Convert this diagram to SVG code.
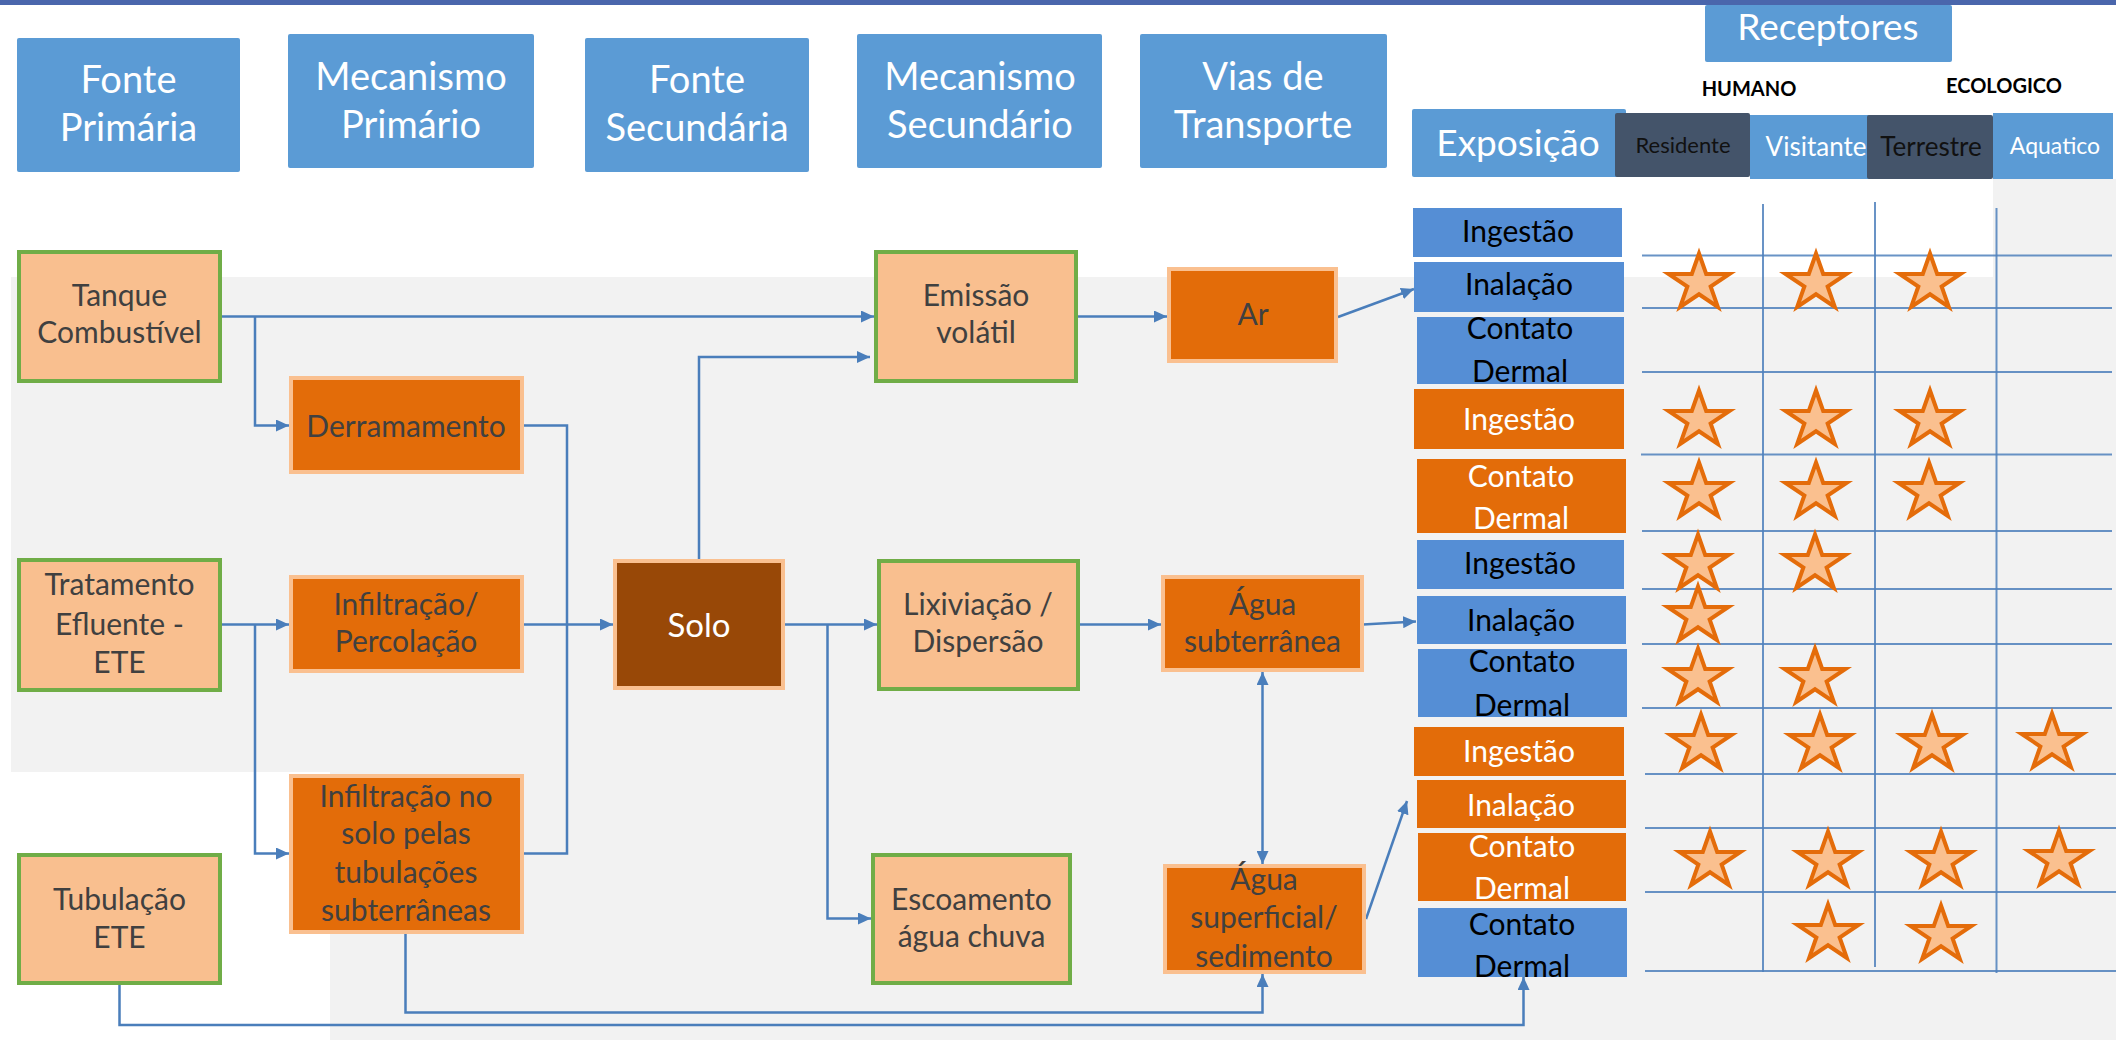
<svg xmlns="http://www.w3.org/2000/svg" width="2116" height="1040" viewBox="0 0 2116 1040">
  <style>
    text { font-family: Lato, "Liberation Sans", sans-serif; text-anchor: middle; }
    .hdr rect { fill: #5b9bd5; }
    .hdr text { fill: #ffffff; font-size: 38px; }
    .src rect { fill: #f9bf8f; stroke: #70ad47; stroke-width: 4; }
    .mech rect { fill: #e36c09; stroke: #fac090; stroke-width: 4; }
    .soil rect { fill: #984807; stroke: #fac090; stroke-width: 4; }
    .src text, .mech text { fill: #404040; font-size: 30px; }
    .soil text { fill: #ffffff; font-size: 33px; }
    .exb rect { fill: #558ed5; }
    .exb text { fill: #000000; font-size: 30px; }
    .exo rect { fill: #e36c09; }
    .exo text { fill: #ffffff; font-size: 30px; }
    .rec text { font-size: 22px; }
    .dark rect { fill: #44546a; }
    .dark text { fill: #111111; }
    .lite rect { fill: #5b9bd5; }
    .lite text { fill: #ffffff; }
    .cat { font-size: 20px; font-weight: bold; fill: #000000; }
    .grid line { stroke: #4f81bd; stroke-width: 2; opacity: 0.85; }
    .conn path { fill: none; stroke: #4a7ebb; stroke-width: 2.5; }
    .star { fill: #fac08f; stroke: #e46c0a; stroke-width: 4; stroke-linejoin: miter; }
  </style>
  <defs>
    <marker id="arr" markerUnits="userSpaceOnUse" markerWidth="14" markerHeight="12" refX="13" refY="6" orient="auto-start-reverse">
      <path d="M0,0 L13,6 L0,12 z" fill="#4a7ebb"/>
    </marker>
    <polygon id="star" class="star" points="0,-29.5 7.19,-9.12 30.43,-9.12 11.63,3.48 18.82,23.87 0,11.27 -18.82,23.87 -11.63,3.48 -30.43,-9.12 -7.19,-9.12"/>
  </defs>

  <!-- page background -->
  <rect x="0" y="0" width="2116" height="1040" fill="#ffffff"/>
  <path d="M11,277 H1993 V179 H2116 V1040 H330 V772 H11 Z" fill="#f2f2f2"/>
  <rect x="0" y="0" width="2116" height="5" fill="#4a66ac"/>

  <!-- column headers -->
  <g id="h-fonte-primaria" class="hdr">
    <rect x="17" y="38" width="223" height="134" rx="2"/>
    <text x="128.5" y="93">Fonte</text>
    <text x="128.5" y="141">Primária</text>
  </g>
  <g id="h-mecanismo-primario" class="hdr">
    <rect x="288" y="34" width="246" height="134" rx="2"/>
    <text x="411" y="90">Mecanismo</text>
    <text x="411" y="138">Primário</text>
  </g>
  <g id="h-fonte-secundaria" class="hdr">
    <rect x="585" y="38" width="224" height="134" rx="2"/>
    <text x="697" y="93">Fonte</text>
    <text x="697" y="141">Secundária</text>
  </g>
  <g id="h-mecanismo-secundario" class="hdr">
    <rect x="857" y="34" width="245" height="134" rx="2"/>
    <text x="980" y="90">Mecanismo</text>
    <text x="980" y="138">Secundário</text>
  </g>
  <g id="h-vias" class="hdr">
    <rect x="1140" y="34" width="247" height="134" rx="2"/>
    <text x="1263" y="90">Vias de</text>
    <text x="1263" y="138">Transporte</text>
  </g>
  <g id="h-receptores" class="hdr">
    <rect x="1705" y="5" width="247" height="57" rx="2"/>
    <text x="1828" y="40" style="font-size:37px">Receptores</text>
  </g>
  <g id="h-exposicao" class="hdr">
    <rect x="1412" y="109" width="214" height="68" rx="2"/>
    <text x="1518" y="156" style="font-size:37px">Exposição</text>
  </g>
  <text class="cat" x="1749" y="96">HUMANO</text>
  <text class="cat" x="2004" y="93">ECOLOGICO</text>

  <g id="r-residente" class="rec dark">
    <rect x="1615" y="113" width="135" height="64" rx="2"/>
    <text x="1683" y="153">Residente</text>
  </g>
  <g id="r-visitante" class="rec lite">
    <rect x="1750" y="115" width="119" height="64"/>
    <text x="1816" y="156" style="font-size:26px">Visitante</text>
  </g>
  <g id="r-terrestre" class="rec dark">
    <rect x="1867" y="115" width="126" height="64" rx="2"/>
    <text x="1931" y="156" style="font-size:26px">Terrestre</text>
  </g>
  <g id="r-aquatico" class="rec lite">
    <rect x="1993" y="113" width="120" height="66"/>
    <text x="2055" y="154" style="font-size:23px">Aquatico</text>
  </g>

  <!-- receptor grid -->
  <g class="grid">
    <line x1="1763" y1="204" x2="1763" y2="972"/>
    <line x1="1875" y1="202" x2="1875" y2="967"/>
    <line x1="1996.5" y1="208" x2="1996.5" y2="973"/>
    <line x1="1642" y1="255.5" x2="2112" y2="255.5"/>
    <line x1="1642" y1="308" x2="2112" y2="308"/>
    <line x1="1642" y1="372" x2="2112" y2="372"/>
    <line x1="1641" y1="454.5" x2="2112" y2="454.5"/>
    <line x1="1642" y1="531" x2="2112" y2="531"/>
    <line x1="1642" y1="589" x2="2112" y2="589"/>
    <line x1="1642" y1="644" x2="2112" y2="644"/>
    <line x1="1642" y1="708" x2="2112" y2="708"/>
    <line x1="1645" y1="774" x2="2116" y2="774"/>
    <line x1="1645" y1="828" x2="2116" y2="828"/>
    <line x1="1645" y1="892" x2="2116" y2="892"/>
    <line x1="1645" y1="971" x2="2116" y2="971"/>
  </g>

  <!-- connectors -->
  <g id="connectors" class="conn">
    <path d="M222,316.5 H874" marker-end="url(#arr)"/>
    <path d="M255,316.5 V425.5 H289" marker-end="url(#arr)"/>
    <path d="M523,425.5 H567 V853.5 H523"/>
    <path d="M523,624.5 H613" marker-end="url(#arr)"/>
    <path d="M222,624.5 H289" marker-end="url(#arr)"/>
    <path d="M255,624.5 V853.5 H289" marker-end="url(#arr)"/>
    <path d="M699,559 V357 H870" marker-end="url(#arr)"/>
    <path d="M785,624.5 H877" marker-end="url(#arr)"/>
    <path d="M827.5,624.5 V918.5 H871" marker-end="url(#arr)"/>
    <path d="M1078,316.5 H1167" marker-end="url(#arr)"/>
    <path d="M1338,317 L1414,289" marker-end="url(#arr)"/>
    <path d="M1079,624.5 H1161" marker-end="url(#arr)"/>
    <path d="M1363,624.5 L1416,621.5" marker-end="url(#arr)"/>
    <path d="M1262.5,672 V864" marker-start="url(#arr)" marker-end="url(#arr)"/>
    <path d="M405.5,934 V1012.5 H1262.5 V974" marker-end="url(#arr)"/>
    <path d="M119.5,985 V1025 H1523.5 V977" marker-end="url(#arr)"/>
    <path d="M1366,919 L1407,801" marker-end="url(#arr)"/>
  </g>

  <!-- sources -->
  <g id="n-tanque" class="src">
    <rect x="19" y="252" width="201" height="129"/>
    <text x="119.5" y="306">Tanque</text>
    <text x="119.5" y="343">Combustível</text>
  </g>
  <g id="n-tratamento" class="src">
    <rect x="19" y="560" width="201" height="130"/>
    <text x="119.5" y="595">Tratamento</text>
    <text x="119.5" y="635">Efluente -</text>
    <text x="119.5" y="673">ETE</text>
  </g>
  <g id="n-tubulacao" class="src">
    <rect x="19" y="855" width="201" height="128"/>
    <text x="119.5" y="910">Tubulação</text>
    <text x="119.5" y="948">ETE</text>
  </g>

  <!-- primary mechanisms -->
  <g id="n-derramamento" class="mech">
    <rect x="291" y="378" width="231" height="94"/>
    <text x="406" y="437">Derramamento</text>
  </g>
  <g id="n-infiltracao" class="mech">
    <rect x="291" y="577" width="231" height="94"/>
    <text x="406" y="615">Infiltração/</text>
    <text x="406" y="652">Percolação</text>
  </g>
  <g id="n-infiltracao-tubulacoes" class="mech">
    <rect x="291" y="776" width="231" height="156"/>
    <text x="406" y="807">Infiltração no</text>
    <text x="406" y="844">solo pelas</text>
    <text x="406" y="883">tubulações</text>
    <text x="406" y="921">subterrâneas</text>
  </g>

  <!-- secondary source -->
  <g id="n-solo" class="soil">
    <rect x="615" y="561" width="168" height="127"/>
    <text x="699" y="637">Solo</text>
  </g>

  <!-- secondary mechanisms -->
  <g id="n-emissao" class="src">
    <rect x="876" y="252" width="200" height="129"/>
    <text x="976" y="306">Emissão</text>
    <text x="976" y="343">volátil</text>
  </g>
  <g id="n-lixiviacao" class="src">
    <rect x="879" y="561" width="199" height="128"/>
    <text x="978" y="615">Lixiviação /</text>
    <text x="978" y="652">Dispersão</text>
  </g>
  <g id="n-escoamento" class="src">
    <rect x="873" y="855" width="197" height="128"/>
    <text x="971.5" y="910">Escoamento</text>
    <text x="971.5" y="947">água chuva</text>
  </g>

  <!-- transport pathways -->
  <g id="n-ar" class="mech">
    <rect x="1169" y="269" width="167" height="92"/>
    <text x="1253" y="325">Ar</text>
  </g>
  <g id="n-agua-subterranea" class="mech">
    <rect x="1163" y="577" width="199" height="93"/>
    <text x="1262.5" y="615">Água</text>
    <text x="1262.5" y="652">subterrânea</text>
  </g>
  <g id="n-agua-superficial" class="mech">
    <rect x="1165" y="866" width="199" height="106"/>
    <text x="1264" y="890">Água</text>
    <text x="1264" y="928">superficial/</text>
    <text x="1264" y="967">sedimento</text>
  </g>

  <!-- exposure routes -->
  <g id="e-ar-ingestao" class="exb">
    <rect x="1413" y="208" width="209" height="49"/>
    <text x="1518" y="242">Ingestão</text>
  </g>
  <g id="e-ar-inalacao" class="exb">
    <rect x="1414" y="262" width="210" height="50"/>
    <text x="1519" y="295">Inalação</text>
  </g>
  <g id="e-ar-contato" class="exb">
    <rect x="1417" y="317" width="207" height="67"/>
    <text x="1520" y="339">Contato</text>
    <text x="1520" y="382">Dermal</text>
  </g>
  <g id="e-solo-ingestao" class="exo">
    <rect x="1414" y="389" width="210" height="60"/>
    <text x="1519" y="430">Ingestão</text>
  </g>
  <g id="e-solo-contato" class="exo">
    <rect x="1417" y="459" width="209" height="74"/>
    <text x="1521" y="487">Contato</text>
    <text x="1521" y="529">Dermal</text>
  </g>
  <g id="e-sub-ingestao" class="exb">
    <rect x="1417" y="540" width="207" height="49"/>
    <text x="1520" y="574">Ingestão</text>
  </g>
  <g id="e-sub-inalacao" class="exb">
    <rect x="1417" y="596" width="209" height="48"/>
    <text x="1521" y="631">Inalação</text>
  </g>
  <g id="e-sub-contato" class="exb">
    <rect x="1418" y="649" width="209" height="68"/>
    <text x="1522" y="672">Contato</text>
    <text x="1522" y="716">Dermal</text>
  </g>
  <g id="e-sup-ingestao" class="exo">
    <rect x="1414" y="727" width="210" height="49"/>
    <text x="1519" y="762">Ingestão</text>
  </g>
  <g id="e-sup-inalacao" class="exo">
    <rect x="1417" y="780" width="209" height="48"/>
    <text x="1521" y="816">Inalação</text>
  </g>
  <g id="e-sup-contato" class="exo">
    <rect x="1418" y="833" width="208" height="68"/>
    <text x="1522" y="857">Contato</text>
    <text x="1522" y="899">Dermal</text>
  </g>
  <g id="e-tub-contato" class="exb">
    <rect x="1418" y="908" width="209" height="69"/>
    <text x="1522" y="935">Contato</text>
    <text x="1522" y="977">Dermal</text>
  </g>

  <!-- receptor marks -->
  <g id="marks">
    <use href="#star" x="1699" y="283"/>
    <use href="#star" x="1816" y="283"/>
    <use href="#star" x="1930" y="283"/>
    <use href="#star" x="1699" y="420"/>
    <use href="#star" x="1816" y="420"/>
    <use href="#star" x="1930" y="420"/>
    <use href="#star" x="1699" y="492"/>
    <use href="#star" x="1816" y="492"/>
    <use href="#star" x="1929" y="492"/>
    <use href="#star" x="1698" y="564"/>
    <use href="#star" x="1815" y="564"/>
    <use href="#star" x="1698" y="616"/>
    <use href="#star" x="1698" y="678"/>
    <use href="#star" x="1815" y="678"/>
    <use href="#star" x="1701" y="744"/>
    <use href="#star" x="1820" y="744"/>
    <use href="#star" x="1932" y="744"/>
    <use href="#star" x="2052" y="743"/>
    <use href="#star" x="1710" y="861"/>
    <use href="#star" x="1828" y="861"/>
    <use href="#star" x="1941" y="861"/>
    <use href="#star" x="2059" y="860"/>
    <use href="#star" x="1828" y="934"/>
    <use href="#star" x="1941" y="935"/>
  </g>
</svg>
